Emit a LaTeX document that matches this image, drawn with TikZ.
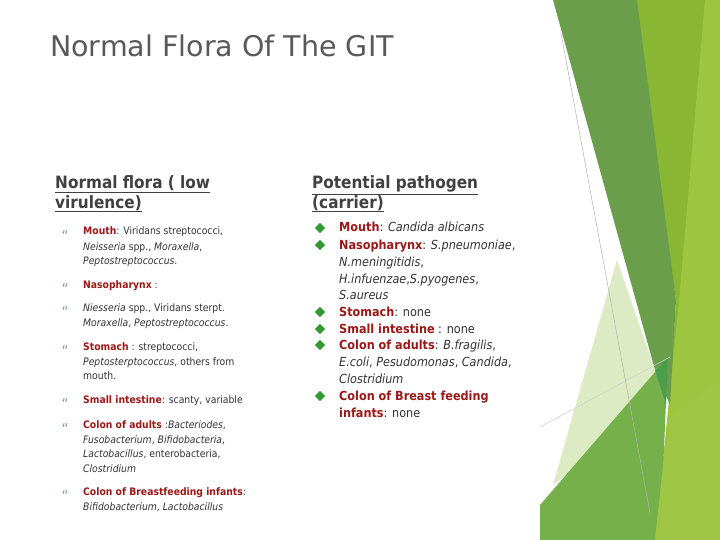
\documentclass[tikz,border=0pt]{standalone}
\usepackage{fontspec}
\usetikzlibrary{shapes.geometric}
\setmainfont{DejaVu Sans Condensed}
\newfontfamily\titlefont{DejaVu Sans}
\begin{document}
\begin{tikzpicture}[x=1pt,y=-1pt,
  lt/.style={anchor=base west,inner sep=0pt,font=\fontsize{10.3}{12}\selectfont,text=black!80},
  rt/.style={anchor=base west,inner sep=0pt,font=\fontsize{12.5}{14}\selectfont,text=black!80},
  hd/.style={anchor=base west,inner sep=0pt,font=\fontsize{17}{19}\selectfont\bfseries,text=black!75},
  lb/.style={anchor=base,inner sep=0pt,font=\fontsize{15}{16}\selectfont,text=green!40!black!55},
  rb/.style={fill=green!50!black!80,draw=none,shape=diamond,minimum size=0pt}]
\definecolor{dred}{HTML}{9A1818}
\definecolor{dkg}{HTML}{6A9E4B}
\definecolor{lime}{HTML}{89B733}
\definecolor{brg}{HTML}{9CC63F}
\definecolor{pale}{HTML}{DDEBC4}
\definecolor{midg}{HTML}{76B04A}
\definecolor{yg}{HTML}{93C02F}
\useasboundingbox (0,0) rectangle (720,540);
\fill[white] (0,0) rectangle (720,540);
% decoration
\fill[lime] (630,0) -- (720,0) -- (720,540) -- (660,540) -- (676,300) -- cycle;
\fill[brg] (705,0) -- (720,0) -- (720,540) -- (655,540) -- (680,290) -- cycle;
\fill[dkg] (553,0) -- (637,0) -- (676,300) -- (670,405) -- (655,370) -- cycle;
\fill[pale] (617,260) -- (655,370) -- (668,358) -- (640,420) -- (553,485) -- cycle;
\fill[midg] (540,540) -- (540,505) -- (668,357) -- (660,540) -- cycle;
\fill[yg!90!white] (655,540) -- (668,420) -- (720,380) -- (720,540) -- cycle;
\fill[green!45!black!70] (655,370) -- (668,357) -- (666,405) -- cycle;
\draw[black!30,line width=0.5pt] (561,33) -- (650,513);
\draw[black!20,line width=0.5pt] (540,427) -- (670,357);
% title
\node[anchor=base west,inner sep=0pt,font=\fontsize{28.5}{32}\titlefont,text=black!65] (title) at (50,57) {Normal Flora Of The GIT};
% left
\node[hd] (lh1) at (55,189) {\underline{Normal flora ( low}};
\node[hd] (lh2) at (55,208) {\underline{virulence)}};
\foreach \y/\n in {231/b1,284/b2,307/b3,346/b4,399/b5,424/b6,491/b7} \node[lb] (\n) at (65,\y+10) {“};
\node[lt] (l1) at (83,235) {\textcolor{dred}{\textbf{Mouth}}: Viridans streptococci,};
\node[lt] (l2) at (83,250) {\textit{Neisseria} spp., \textit{Moraxella},};
\node[lt] (l3) at (83,264) {\textit{Peptostreptococcus}.};
\node[lt] (l4) at (83,288) {\textcolor{dred}{\textbf{Nasopharynx}} :};
\node[lt] (l5) at (83,311) {\textit{Niesseria} spp., Viridans sterpt.};
\node[lt] (l6) at (83,326) {\textit{Moraxella}, \textit{Peptostreptococcus}.};
\node[lt] (l7) at (83,350) {\textcolor{dred}{\textbf{Stomach}} : streptococci,};
\node[lt] (l8) at (83,365) {\textit{Peptosterptococcus}, others from};
\node[lt] (l9) at (83,379) {mouth.};
\node[lt] (l10) at (83,403) {\textcolor{dred}{\textbf{Small intestine}}: scanty, variable};
\node[lt] (l11) at (83,428) {\textcolor{dred}{\textbf{Colon of adults}} :\textit{Bacteriodes},};
\node[lt] (l12) at (83,443) {\textit{Fusobacterium}, \textit{Bifidobacteria},};
\node[lt] (l13) at (83,457) {\textit{Lactobacillus}, enterobacteria,};
\node[lt] (l14) at (83,472) {\textit{Clostridium}};
\node[lt] (l15) at (83,495) {\textcolor{dred}{\textbf{Colon of Breastfeeding infants}}:};
\node[lt] (l16) at (83,510) {\textit{Bifidobacterium}, \textit{Lactobacillus}};
% right
\node[hd] (rh1) at (312,189) {\underline{Potential pathogen}};
\node[hd] (rh2) at (312,208) {\underline{(carrier)}};
\foreach \y/\n in {228/d1,245/d2,312/d3,329/d4,345/d5,396/d6} \node[rb,inner sep=2.6pt] (\n) at (320,\y) {};
\node[rt] (r1) at (339,232) {\textcolor{dred}{\textbf{Mouth}}: \textit{Candida albicans}};
\node[rt] (r2) at (339,249) {\textcolor{dred}{\textbf{Nasopharynx}}: \textit{S.pneumoniae},};
\node[rt] (r3) at (339,266) {\textit{N.meningitidis},};
\node[rt] (r4) at (339,283) {\textit{H.infuenzae},\textit{S.pyogenes},};
\node[rt] (r5) at (339,299) {\textit{S.aureus}};
\node[rt] (r6) at (339,316) {\textcolor{dred}{\textbf{Stomach}}: none};
\node[rt] (r7) at (339,333) {\textcolor{dred}{\textbf{Small intestine}} : none};
\node[rt] (r8) at (339,349) {\textcolor{dred}{\textbf{Colon of adults}}: \textit{B.fragilis},};
\node[rt] (r9) at (339,366) {\textit{E.coli}, \textit{Pesudomonas}, \textit{Candida},};
\node[rt] (r10) at (339,383) {\textit{Clostridium}};
\node[rt] (r11) at (339,400) {\textcolor{dred}{\textbf{Colon of Breast feeding}}};
\node[rt] (r12) at (339,417) {\textcolor{dred}{\textbf{infants}}: none};
\end{tikzpicture}
\end{document}
